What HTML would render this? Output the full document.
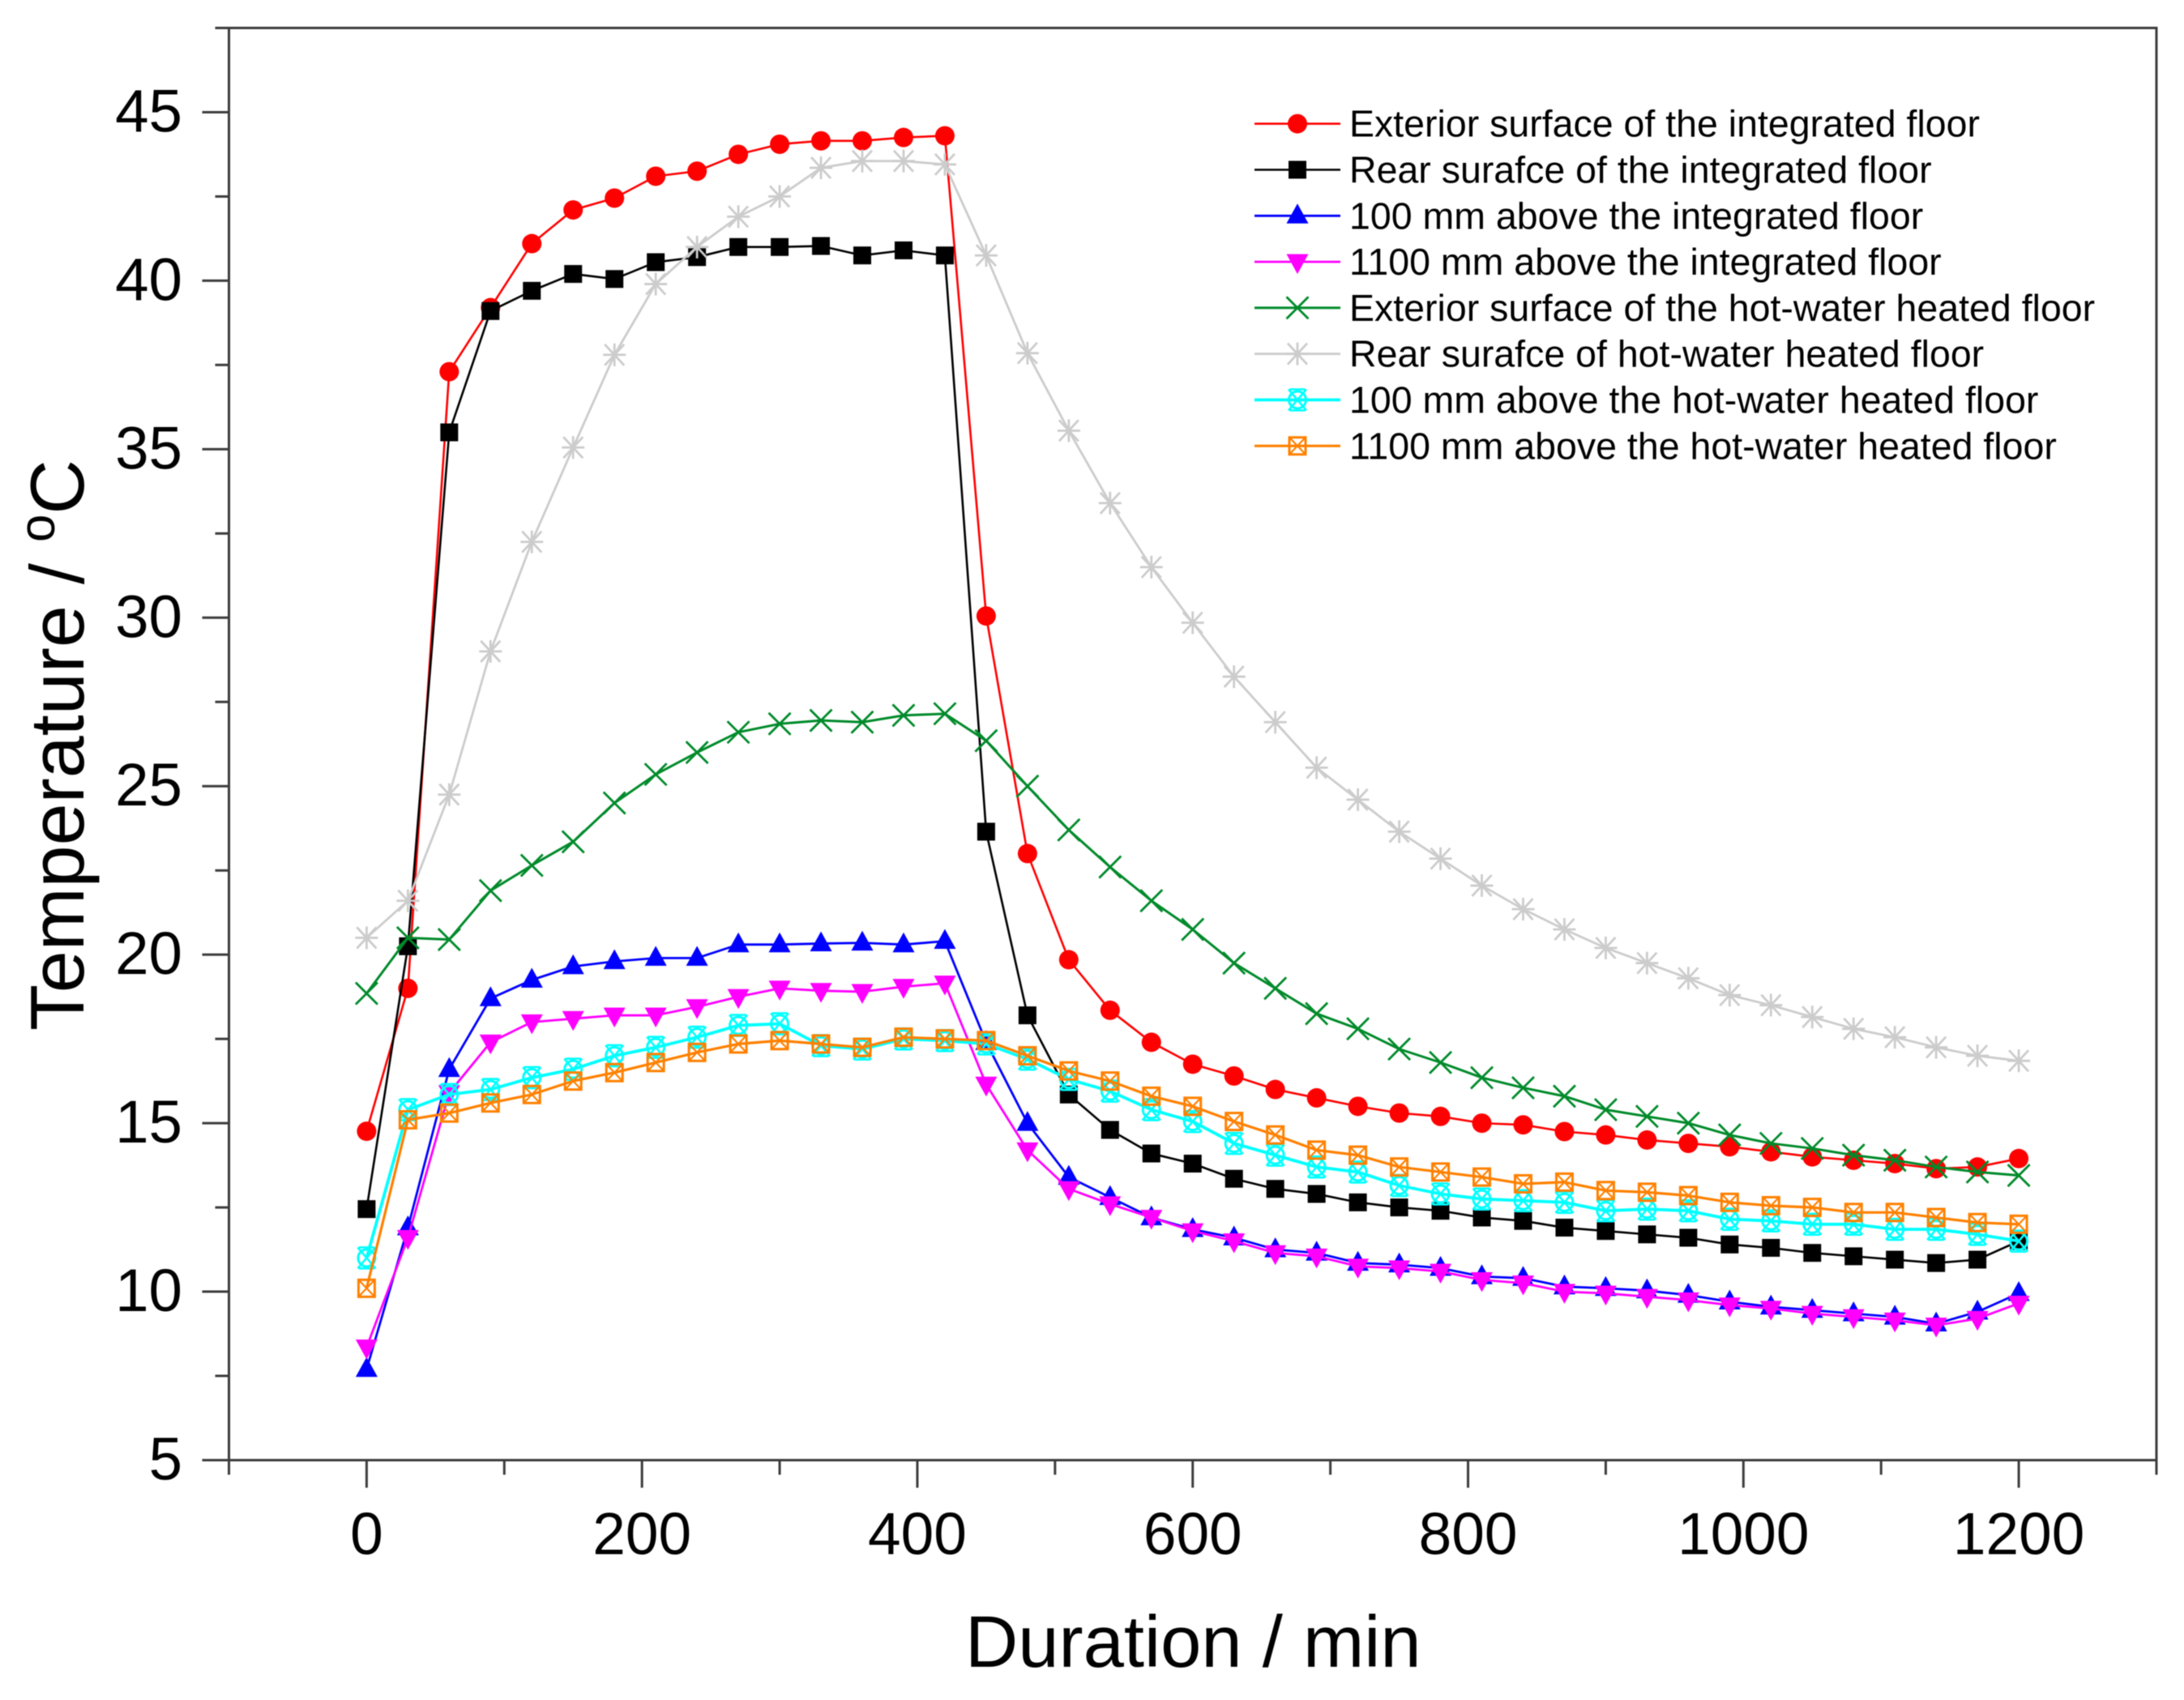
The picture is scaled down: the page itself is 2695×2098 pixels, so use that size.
<!DOCTYPE html>
<html>
<head>
<meta charset="utf-8">
<title>Floor temperature over time</title>
<style>
html,body{margin:0;padding:0;background:#fff;}
#chart{display:block;filter:blur(0.6px);}
text{font-family:"Liberation Sans",Arial,sans-serif;fill:#000;}
</style>
</head>
<body>
<svg id="chart" xmlns="http://www.w3.org/2000/svg" width="2695" height="2098" viewBox="0 0 2695 2098">
<rect x="0" y="0" width="2695" height="2098" fill="#ffffff"/>
<g id="axes"></g>
<g id="plot"></g>
<g id="legend"></g>
<text x="1191" y="2057" font-size="90.4">Duration / min</text>
<text transform="translate(103,1272) rotate(-90)" font-size="93.5">Temperature / <tspan font-size="62" dy="-36">o</tspan><tspan dy="36">C</tspan></text>
</svg>
<script>
const durations = [0,30,60,90,120,150,180,210,240,270,300,330,360,390,420,450,480,510,540,570,600,630,660,690,720,750,780,810,840,870,900,930,960,990,1020,1050,1080,1110,1140,1170,1200];
const exteriorIntegrated = [14.76,19.0,37.3,39.2,41.1,42.1,42.45,43.1,43.25,43.75,44.05,44.15,44.15,44.25,44.3,30.05,23.0,19.85,18.35,17.4,16.75,16.4,16.0,15.75,15.5,15.3,15.2,15.0,14.95,14.75,14.65,14.5,14.4,14.3,14.15,14.0,13.9,13.8,13.65,13.7,13.95];
const rearIntegrated = [12.45,20.25,35.5,39.1,39.7,40.2,40.05,40.55,40.7,41.0,41.0,41.03,40.75,40.9,40.75,23.65,18.2,15.85,14.8,14.1,13.8,13.35,13.05,12.9,12.65,12.5,12.4,12.2,12.1,11.9,11.8,11.7,11.6,11.4,11.3,11.15,11.05,10.95,10.85,10.95,11.5];
const above100Integrated = [7.7,11.9,16.6,18.7,19.25,19.65,19.8,19.9,19.9,20.3,20.3,20.33,20.35,20.3,20.4,17.4,15.0,13.4,12.8,12.2,11.85,11.6,11.25,11.15,10.85,10.8,10.7,10.45,10.4,10.15,10.1,10.03,9.9,9.7,9.55,9.45,9.35,9.25,9.05,9.4,9.95];
const above1100Integrated = [8.35,11.6,15.9,17.4,18.0,18.1,18.2,18.2,18.45,18.75,19.0,18.93,18.9,19.05,19.15,16.15,14.2,13.05,12.6,12.2,11.8,11.5,11.15,11.05,10.75,10.7,10.6,10.35,10.25,10.0,9.95,9.85,9.75,9.6,9.5,9.35,9.25,9.15,9.0,9.2,9.65];
const exteriorHotWater = [18.85,20.5,20.45,21.9,22.65,23.35,24.5,25.35,26.0,26.6,26.85,26.95,26.9,27.1,27.15,26.35,25.0,23.7,22.6,21.6,20.75,19.75,19.0,18.25,17.8,17.2,16.8,16.35,16.05,15.8,15.4,15.2,15.0,14.65,14.4,14.25,14.05,13.9,13.7,13.55,13.45];
const rearHotWater = [20.5,21.6,24.75,29.0,32.25,35.05,37.8,39.9,41.0,41.9,42.5,43.35,43.55,43.55,43.45,40.75,37.85,35.55,33.4,31.5,29.85,28.25,26.9,25.55,24.6,23.65,22.85,22.05,21.35,20.75,20.2,19.75,19.3,18.8,18.5,18.15,17.8,17.55,17.25,17.0,16.85];
const above100HotWater = [11.0,15.4,15.85,16.0,16.35,16.6,17.0,17.25,17.55,17.9,17.95,17.3,17.2,17.5,17.45,17.35,16.9,16.3,15.95,15.4,15.05,14.4,14.05,13.7,13.55,13.15,12.9,12.75,12.7,12.65,12.4,12.45,12.4,12.15,12.1,12.0,12.0,11.85,11.85,11.7,11.5];
const above1100HotWater = [10.1,15.1,15.3,15.6,15.85,16.25,16.5,16.8,17.1,17.35,17.45,17.35,17.25,17.55,17.5,17.45,17.0,16.55,16.25,15.8,15.5,15.05,14.65,14.2,14.05,13.7,13.55,13.4,13.2,13.25,13.0,12.95,12.85,12.65,12.55,12.5,12.35,12.35,12.2,12.05,12.0];

const seriesLabels = ["Exterior surface of the integrated floor","Rear surafce of the integrated floor","100 mm above the integrated floor","1100 mm above the integrated floor","Exterior surface of the hot-water heated floor","Rear surafce of hot-water heated floor","100 mm above the hot-water heated floor","1100 mm above the hot-water heated floor"];
const seriesValues = [exteriorIntegrated,rearIntegrated,above100Integrated,above1100Integrated,exteriorHotWater,rearHotWater,above100HotWater,above1100HotWater];
const seriesColors = ["#ff0000","#000000","#0000ff","#ff00ff","#008a2a","#cccccc","#00ffff","#ff8000"];
const seriesMarkers = ["circle","square","up","down","cross","star","ringx","boxx"];
const seriesWidths = [2.6,2.6,2.8,2.8,3,2.8,3.8,3.2];
const seriesSlugs = ["exterior-integrated","rear-integrated","100mm-integrated","1100mm-integrated","exterior-hot-water","rear-hot-water","100mm-hot-water","1100mm-hot-water"];

const xMajorTicks = [0,200,400,600,800,1000,1200];
const xMinorTicks = [-100,100,300,500,700,900,1100,1300];
const yMajorTicks = [5,10,15,20,25,30,35,40,45];
const yMinorTicks = [7.5,12.5,17.5,22.5,27.5,32.5,37.5,42.5,47.5];

const NS = "http://www.w3.org/2000/svg";
const left = 282.5, right = 2661, top_ = 34.5, bottom = 1802;
const xDomain = [-100,1300], yDomain = [5,47.5];
function xScale(v){ return left + (v - xDomain[0]) / (xDomain[1] - xDomain[0]) * (right - left); }
function yScale(v){ return bottom - (v - yDomain[0]) / (yDomain[1] - yDomain[0]) * (bottom - top_); }

function make(tag, attrs, parent){
  const el = document.createElementNS(NS, tag);
  for (const k in attrs) el.setAttribute(k, attrs[k]);
  parent.appendChild(el);
  return el;
}

const axes = document.getElementById("axes");
const axisColor = "#3c3c3c";
const frameLines = [[left,top_,right,top_,"top-axis-line"],[right,top_,right,bottom,"right-axis-line"],[left,bottom,right,bottom,"x-axis-line"],[left,top_,left,bottom,"y-axis-line"]];
frameLines.forEach(function(f){
  const l = make("line",{x1:f[0],y1:f[1],x2:f[2],y2:f[3],stroke:axisColor,"stroke-width":3,"stroke-linecap":"square"},axes);
  
  
});
xMajorTicks.forEach(function(v){
  const t = make("line",{x1:xScale(v),x2:xScale(v),y1:bottom,y2:bottom+34,stroke:axisColor,"stroke-width":3},axes);
  
  
  const s = make("text",{x:xScale(v),y:1918,"font-size":73,"text-anchor":"middle"},axes);
  s.textContent = String(v);
  
  
});
xMinorTicks.forEach(function(v){
  const t = make("line",{x1:xScale(v),x2:xScale(v),y1:bottom,y2:bottom+18,stroke:axisColor,"stroke-width":3},axes);
  
  
});
yMajorTicks.forEach(function(v){
  const t = make("line",{x1:left-33,x2:left,y1:yScale(v),y2:yScale(v),stroke:axisColor,"stroke-width":3},axes);
  
  
  const s = make("text",{x:225,y:yScale(v)+24,"font-size":74.5,"text-anchor":"end"},axes);
  s.textContent = String(v);
  
  
});
yMinorTicks.forEach(function(v){
  const t = make("line",{x1:left-17,x2:left,y1:yScale(v),y2:yScale(v),stroke:axisColor,"stroke-width":3},axes);
  
  
});

function drawMarker(kind, cx, cy, color, parent){
  const g = make("g",{},parent);
  if (kind === "circle"){
    make("circle",{cx:cx,cy:cy,r:12,fill:color},g);
  } else if (kind === "square"){
    make("rect",{x:cx-11,y:cy-11,width:22,height:22,fill:color},g);
  } else if (kind === "up"){
    make("polygon",{points:(cx)+","+(cy-15)+" "+(cx+13.5)+","+(cy+9.5)+" "+(cx-13.5)+","+(cy+9.5),fill:color},g);
  } else if (kind === "down"){
    make("polygon",{points:(cx)+","+(cy+15)+" "+(cx+13.5)+","+(cy-9.5)+" "+(cx-13.5)+","+(cy-9.5),fill:color},g);
  } else if (kind === "cross"){
    make("path",{d:"M"+(cx-13.5)+" "+(cy-13.5)+"L"+(cx+13.5)+" "+(cy+13.5)+"M"+(cx+13.5)+" "+(cy-13.5)+"L"+(cx-13.5)+" "+(cy+13.5),stroke:color,"stroke-width":2.8,fill:"none"},g);
  } else if (kind === "star"){
    make("path",{d:"M"+(cx-12)+" "+(cy-13)+"L"+(cx+12)+" "+(cy+13)+"M"+(cx+12)+" "+(cy-13)+"L"+(cx-12)+" "+(cy+13)+"M"+cx+" "+(cy-14)+"L"+cx+" "+(cy+14)+"M"+(cx-14)+" "+cy+"L"+(cx+14)+" "+cy,stroke:color,"stroke-width":2.8,fill:"none"},g);
  } else if (kind === "ringx"){
    make("circle",{cx:cx,cy:cy,r:10.5,fill:"none",stroke:color,"stroke-width":3},g);
    make("path",{d:"M"+(cx-11)+" "+(cy-13)+"L"+(cx+11)+" "+(cy+13)+"M"+(cx+11)+" "+(cy-13)+"L"+(cx-11)+" "+(cy+13)+"M"+(cx-9.5)+" "+(cy-13)+"H"+(cx+9.5)+"M"+(cx-9.5)+" "+(cy+13)+"H"+(cx+9.5),stroke:color,"stroke-width":2.6,fill:"none"},g);
  } else if (kind === "boxx"){
    make("rect",{x:cx-10,y:cy-10.5,width:20,height:21,fill:"none",stroke:color,"stroke-width":3},g);
    make("path",{d:"M"+(cx-10)+" "+(cy-10.5)+"L"+(cx+10)+" "+(cy+10.5)+"M"+(cx+10)+" "+(cy-10.5)+"L"+(cx-10)+" "+(cy+10.5),stroke:color,"stroke-width":2.2,fill:"none"},g);
  }
  return g;
}

const plot = document.getElementById("plot");
seriesValues.forEach(function(vals, i){
  const group = make("g",{},plot);
  
  
  const pts = vals.map(function(v, j){ return xScale(durations[j]).toFixed(2) + "," + yScale(v).toFixed(2); }).join(" ");
  const line = make("polyline",{points:pts,fill:"none",stroke:seriesColors[i],"stroke-width":seriesWidths[i],"stroke-linejoin":"round"},group);
  
  
  vals.forEach(function(v, j){
    const m = drawMarker(seriesMarkers[i], xScale(durations[j]), yScale(v), seriesColors[i], group);
    
    
  });
});

const legend = document.getElementById("legend");
seriesLabels.forEach(function(label, i){
  const y = 152.7 + i * 56.8;
  const row = make("g",{},legend);
  
  
  const l = make("line",{x1:1548,x2:1654,y1:y,y2:y,stroke:seriesColors[i],"stroke-width":seriesWidths[i]},row);
  
  
  const m = drawMarker(seriesMarkers[i], 1601, y, seriesColors[i], row);
  
  
  const t = make("text",{x:1665,y:y+16,"font-size":46.5},row);
  t.textContent = label;
  
  
});
</script>
</body>
</html>
